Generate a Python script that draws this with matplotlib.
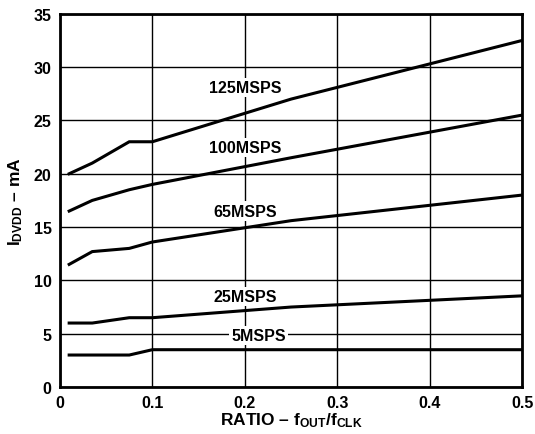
import matplotlib
matplotlib.use('Agg')
import matplotlib.pyplot as plt

plt.rcParams['font.family'] = ['Liberation Sans', 'DejaVu Sans']
plt.rcParams['font.weight'] = 'bold'
plt.rcParams['mathtext.fontset'] = 'custom'
plt.rcParams['mathtext.rm'] = 'Liberation Sans:bold'
plt.rcParams['mathtext.bf'] = 'Liberation Sans:bold'
plt.rcParams['mathtext.it'] = 'Liberation Sans:bold'
plt.rcParams['mathtext.default'] = 'rm'

# data
ratio = [0.01, 0.035, 0.075, 0.1, 0.25, 0.5]
i_125 = [20.0, 21.0, 23.0, 23.0, 27.0, 32.5]
i_100 = [16.5, 17.5, 18.5, 19.0, 21.5, 25.5]
i_65 = [11.5, 12.7, 13.0, 13.6, 15.6, 18.0]
i_25 = [6.0, 6.0, 6.5, 6.5, 7.5, 8.55]
i_5 = [3.0, 3.0, 3.0, 3.5, 3.5, 3.5]

labels = ['125MSPS', '100MSPS', '65MSPS', '25MSPS', '5MSPS']
label_x = [0.2, 0.2, 0.2, 0.2, 0.215]
label_y = [28.1, 22.5, 16.5, 8.5, 4.8]

fig = plt.figure(figsize=(5.35, 4.35), dpi=100)
ax = fig.add_axes([0.112, 0.108, 0.864, 0.858])

for s in [i_125, i_100, i_65, i_25, i_5]:
    ax.plot(ratio, s, color='black', lw=2.2, solid_joinstyle='miter', zorder=3)

for t, x, y in zip(labels, label_x, label_y):
    ax.text(x, y, t, ha='center', va='center', fontsize=11.5, fontweight='bold',
            bbox=dict(facecolor='white', edgecolor='none', pad=1.5), zorder=4)

ax.set_xlim(0, 0.5)
ax.set_ylim(0, 35)
ax.set_xticks([0, 0.1, 0.2, 0.3, 0.4, 0.5])
ax.set_xticklabels(['0', '0.1', '0.2', '0.3', '0.4', '0.5'])
ax.set_yticks(range(0, 36, 5))
ax.grid(True, color='black', lw=1)
ax.tick_params(length=0, labelsize=11.5, pad=6)
for sp in ax.spines.values():
    sp.set_linewidth(2)

ax.set_xlabel(r'RATIO – $f_{OUT}/f_{CLK}$', fontsize=12.5, fontweight='bold', labelpad=0)
ax.set_ylabel(r'$I_{DVDD}$ – mA', fontsize=12.5, fontweight='bold', labelpad=6)

fig.savefig('out.png', dpi=100)
